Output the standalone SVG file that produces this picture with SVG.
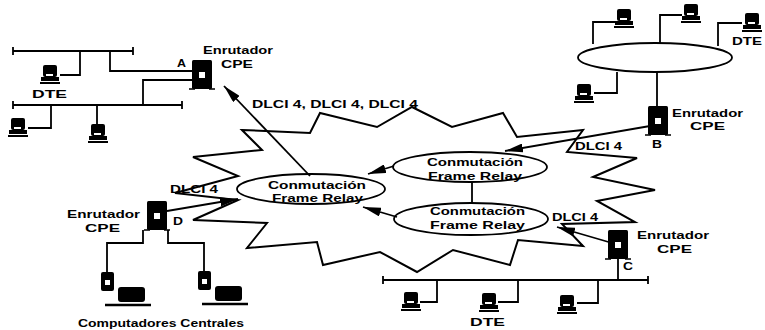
<svg xmlns="http://www.w3.org/2000/svg" xmlns:xlink="http://www.w3.org/1999/xlink" width="765" height="330" viewBox="0 0 765 330">
  <style>
    .ln { fill: none; stroke: #000; stroke-width: 2; stroke-linejoin: miter; }
    .thin { fill: none; stroke: #000; stroke-width: 1.8; }
    .lbl { font-family: "Liberation Sans", Arial, sans-serif; font-weight: bold; font-size: 11px; fill: #000; }
    .arr { fill: none; stroke: #000; stroke-width: 1.8; marker-end: url(#head); }
  </style>
  <defs>
    <marker id="head" markerUnits="userSpaceOnUse" markerWidth="19" markerHeight="9" refX="18" refY="4.5" orient="auto">
      <path d="M0,0 L18,4.5 L0,9 Z" fill="#000"/>
    </marker>
    <!-- terminal (DTE) icon, 20x20 -->
    <g id="dte">
      <rect x="3" y="0" width="14" height="12" rx="2" fill="#000"/>
      <rect x="6" y="9" width="7" height="2" fill="#fff"/>
      <rect x="1" y="12" width="18" height="4" fill="#000"/>
      <rect x="0" y="17" width="20" height="2" fill="#000"/>
    </g>
    <!-- CPE router icon -->
    <g id="router">
      <rect x="1" y="0" width="20" height="29" rx="1.5" fill="#000"/>
      <rect x="8" y="12" width="6" height="6" fill="#fff"/>
      <path d="M-2,29 H4 M18,29 H24" stroke="#000" stroke-width="1.5"/>
    </g>
    <!-- host computer: tower + monitor + keyboard -->
    <g id="host">
      <rect x="0" y="0" width="13" height="19" rx="2" fill="#000"/>
      <rect x="4" y="8" width="5" height="5" fill="#fff"/>
      <rect x="17" y="15" width="27" height="15" rx="3" fill="#000"/>
      <path d="M4,33 H50" stroke="#000" stroke-width="2.5"/>
    </g>
  </defs>

  <!-- Frame Relay cloud -->
  <g id="cloud">
    <polygon class="ln" points="242,130 310,133 320,113 377,127 412,107 452,127 503,113 517,137 583,130 567,152 637,158 593,177 655,190 597,201 635,222 562,224 583,246 518,240 510,265 453,250 417,272 380,252 323,265 317,242 247,248 267,223 193,220 238,200 175,193 238,176 193,157 262,150"/>
  </g>

  <!-- switches -->
  <g id="switch-left">
    <ellipse class="thin" cx="311" cy="189" rx="74" ry="15" fill="#fff"/>
    <text class="lbl" x="268" y="189" textLength="98" lengthAdjust="spacingAndGlyphs">Conmutación</text>
    <text class="lbl" x="272" y="202" textLength="91" lengthAdjust="spacingAndGlyphs">Frame Relay</text>
  </g>
  <g id="switch-top">
    <ellipse class="thin" cx="470" cy="167" rx="77" ry="15" fill="#fff"/>
    <text class="lbl" x="427" y="166" textLength="96" lengthAdjust="spacingAndGlyphs">Conmutación</text>
    <text class="lbl" x="428" y="180" textLength="94" lengthAdjust="spacingAndGlyphs">Frame Relay</text>
  </g>
  <g id="switch-bottom">
    <ellipse class="thin" cx="471" cy="219" rx="77" ry="16" fill="#fff"/>
    <text class="lbl" x="430" y="215" textLength="95" lengthAdjust="spacingAndGlyphs">Conmutación</text>
    <text class="lbl" x="430" y="229" textLength="95" lengthAdjust="spacingAndGlyphs">Frame Relay</text>
  </g>

  <!-- connectors -->
  <g id="connectors">
    <path class="thin" d="M472,182 V203"/>
    <path class="arr" d="M394,166 L368,174"/>
    <path class="arr" d="M397,217 L363,207"/>
    <path class="arr" d="M310,176 L224,86"/>
    <path class="arr" d="M650,126 L505,151"/>
    <path class="arr" d="M612,243 L557,227"/>
    <path class="arr" d="M167,211 L238,199"/>
  </g>

  <!-- DLCI labels -->
  <g id="dlci">
    <text class="lbl" x="252" y="108" textLength="166" lengthAdjust="spacingAndGlyphs">DLCI 4, DLCI 4, DLCI 4</text>
    <text class="lbl" x="575" y="150" textLength="47" lengthAdjust="spacingAndGlyphs">DLCI 4</text>
    <text class="lbl" x="552" y="221" textLength="46" lengthAdjust="spacingAndGlyphs">DLCI 4</text>
    <text class="lbl" x="170" y="193" textLength="48" lengthAdjust="spacingAndGlyphs">DLCI 4</text>
  </g>

  <!-- site A: two bus segments -->
  <g id="site-a">
    <path class="thin" d="M13,51 H133 M13,47 V55 M133,47 V55"/>
    <path class="thin" d="M80,51 V75 H60 M110,51 V71 H192"/>
    <path class="thin" d="M13,105 H182 M13,101 V109 M182,101 V109"/>
    <path class="thin" d="M143,105 V80 H193 M51,105 V128 H28 M97,105 V126"/>
    <use xlink:href="#dte" x="40" y="65"/>
    <use xlink:href="#dte" x="8" y="118"/>
    <use xlink:href="#dte" x="88" y="124"/>
    <text class="lbl" x="32" y="98" textLength="35" lengthAdjust="spacingAndGlyphs">DTE</text>
    <use xlink:href="#router" x="191" y="60"/>
    <text class="lbl" x="177" y="67" textLength="9" lengthAdjust="spacingAndGlyphs">A</text>
    <text class="lbl" x="203" y="54" textLength="70" lengthAdjust="spacingAndGlyphs">Enrutador</text>
    <text class="lbl" x="221" y="68" textLength="32" lengthAdjust="spacingAndGlyphs">CPE</text>
  </g>

  <!-- site B: ring -->
  <g id="site-b">
    <ellipse class="thin" cx="655" cy="57.5" rx="77" ry="14.5" fill="none"/>
    <path class="thin" d="M593,44 V22 H615 M660,43 V15 H682 M718,46 V23 H742 M617,72 V93 H594 M657,72 V106"/>
    <use xlink:href="#dte" x="614" y="9"/>
    <use xlink:href="#dte" x="681" y="4"/>
    <use xlink:href="#dte" x="742" y="13"/>
    <use xlink:href="#dte" x="574" y="84"/>
    <text class="lbl" x="732" y="45" textLength="30" lengthAdjust="spacingAndGlyphs">DTE</text>
    <use xlink:href="#router" x="647" y="106"/>
    <text class="lbl" x="652" y="148" textLength="10" lengthAdjust="spacingAndGlyphs">B</text>
    <text class="lbl" x="672" y="117" textLength="71" lengthAdjust="spacingAndGlyphs">Enrutador</text>
    <text class="lbl" x="690" y="130" textLength="35" lengthAdjust="spacingAndGlyphs">CPE</text>
  </g>

  <!-- site C: bus -->
  <g id="site-c">
    <path class="thin" d="M383,280 H648 M383,276 V284 M648,276 V284"/>
    <path class="thin" d="M437,280 V302 H420 M518,280 V302 H498 M598,280 V303 H577 M618,280 V259"/>
    <use xlink:href="#dte" x="401" y="292"/>
    <use xlink:href="#dte" x="479" y="293"/>
    <use xlink:href="#dte" x="557" y="295"/>
    <text class="lbl" x="470" y="326" textLength="35" lengthAdjust="spacingAndGlyphs">DTE</text>
    <use xlink:href="#router" x="607" y="230"/>
    <text class="lbl" x="623" y="270" textLength="10" lengthAdjust="spacingAndGlyphs">C</text>
    <text class="lbl" x="637" y="239" textLength="72" lengthAdjust="spacingAndGlyphs">Enrutador</text>
    <text class="lbl" x="657" y="253" textLength="35" lengthAdjust="spacingAndGlyphs">CPE</text>
  </g>

  <!-- site D: host computers -->
  <g id="site-d">
    <use xlink:href="#router" x="146" y="201"/>
    <path class="thin" d="M143,230 V243 H107 V272 M168,230 V243 H204 V271"/>
    <use xlink:href="#host" x="101" y="272"/>
    <use xlink:href="#host" x="198" y="271"/>
    <text class="lbl" x="173" y="225" textLength="10" lengthAdjust="spacingAndGlyphs">D</text>
    <text class="lbl" x="67" y="218" textLength="73" lengthAdjust="spacingAndGlyphs">Enrutador</text>
    <text class="lbl" x="85" y="232" textLength="35" lengthAdjust="spacingAndGlyphs">CPE</text>
    <text class="lbl" x="78" y="327" textLength="166" lengthAdjust="spacingAndGlyphs">Computadores Centrales</text>
  </g>
</svg>
